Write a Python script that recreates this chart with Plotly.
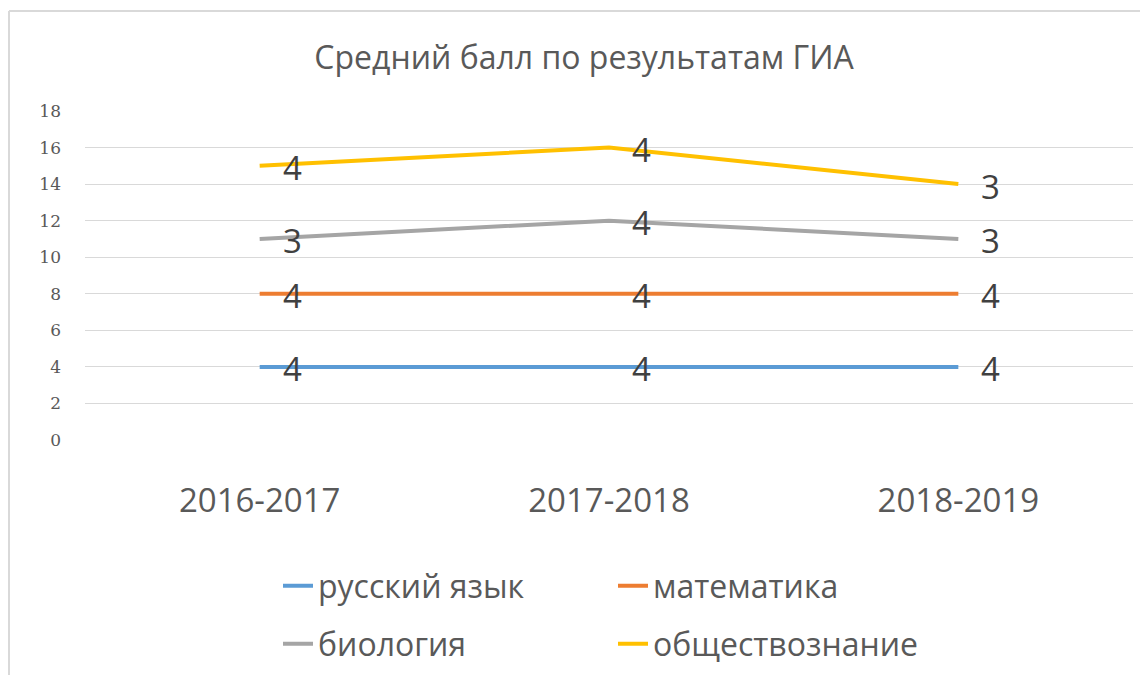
import numpy as np
import plotly.graph_objects as go

categories = ["2016-2017", "2017-2018", "2018-2019"]
series_names = ["русский язык", "математика", "биология", "обществознание"]
russian = [4, 4, 4]
math = [4, 4, 4]
biology = [3, 4, 3]
social = [4, 4, 3]
y_ticks = [0, 2, 4, 6, 8, 10, 12, 14, 16, 18]

colors = ["#5b9bd5", "#ed7d31", "#a5a5a5", "#ffc000"]
series = [russian, math, biology, social]
stacked = np.cumsum(np.array(series), axis=0)

# page offset of 8px (body margin) is accounted for in margins
OFF = 8
L, T = 85 - OFF, 111 - OFF
PW, PH = 1048, 329
W, H = 1148 - OFF, 675 - OFF

fig = go.Figure()
annotations = []
for i, (name, vals) in enumerate(zip(series_names, series)):
    fig.add_trace(go.Scatter(
        x=categories, y=stacked[i], mode="lines", name=name,
        line=dict(color=colors[i], width=4),
        legend="legend" if i < 2 else "legend2",
        hoverinfo="skip",
    ))
    for c, yv, v in zip(categories, stacked[i], vals):
        annotations.append(dict(
            x=c, y=yv, xref="x", yref="y", text=str(v), showarrow=False,
            xanchor="left", yanchor="middle", xshift=21, yshift=-2,
            font=dict(family="Open Sans", size=33, color="#404040"),
        ))

grey = "#595959"
fig.update_layout(
    width=W, height=H,
    margin=dict(l=L, r=W - L - PW, t=T, b=H - T - PH, autoexpand=False),
    paper_bgcolor="white", plot_bgcolor="white",
    title=dict(text="Средний балл по результатам ГИА", x=(584 - OFF) / W, xanchor="center",
               y=1 - (58 - OFF) / H, yanchor="middle",
               font=dict(family="Open Sans", size=32, color=grey)),
    xaxis=dict(type="category", range=[-0.5, 2.5], showgrid=False, showline=False,
               ticks="", ticklabelstandoff=38,
               tickfont=dict(family="Open Sans", size=33, color=grey),
               fixedrange=True),
    yaxis=dict(range=[0, 18], tickvals=y_ticks, showgrid=True, gridcolor="#d9d9d9",
               gridwidth=1, zeroline=False, showline=False, ticks="",
               ticklabelstandoff=23,
               tickfont=dict(family="DejaVu Serif", size=17, color=grey),
               fixedrange=True),
    legend=dict(orientation="h", x=(278 - 85) / PW, xanchor="left",
                y=-(586 - 440) / PH, yanchor="middle",
                entrywidth=290, entrywidthmode="pixels",
                font=dict(family="Open Sans", size=32, color=grey),
                bgcolor="rgba(0,0,0,0)", itemclick=False, itemdoubleclick=False),
    legend2=dict(orientation="h", x=(278 - 85) / PW, xanchor="left",
                 y=-(644 - 440) / PH, yanchor="middle",
                 entrywidth=290, entrywidthmode="pixels",
                 font=dict(family="Open Sans", size=32, color=grey),
                 bgcolor="rgba(0,0,0,0)", itemclick=False, itemdoubleclick=False),
    annotations=annotations,
    showlegend=True,
)

# chart frame (top and left edges)
top = 1 + (111 - 11) / PH
left = (9 - 85) / PW
fig.add_shape(type="line", xref="paper", yref="paper",
              x0=left, x1=(1148 - 85) / PW, y0=top, y1=top,
              line=dict(color="#d9d9d9", width=2))
fig.add_shape(type="line", xref="paper", yref="paper",
              x0=left, x1=left, y0=top, y1=-(240 / PH),
              line=dict(color="#d9d9d9", width=2))

fig.write_html("out.html", config={"displayModeBar": False})
